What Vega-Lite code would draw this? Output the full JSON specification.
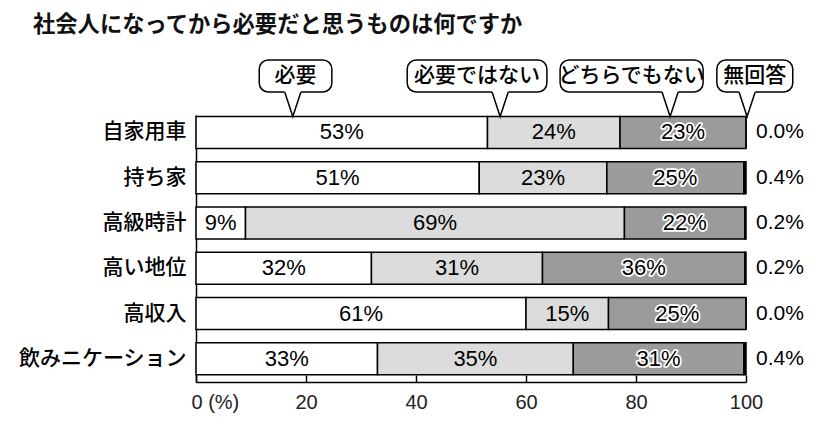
{
  "$schema": "https://vega.github.io/schema/vega-lite/v6.json",
  "width": 550,
  "height": 267,
  "autosize": {"type": "none"},
  "padding": {"left": 196, "top": 115, "right": 94, "bottom": 47},
  "background": "white",
  "title": {
    "text": "社会人になってから必要だと思うものは何ですか",
    "anchor": "start",
    "frame": "group",
    "dx": -163,
    "offset": 23,
    "font": "Noto Sans CJK JP",
    "fontSize": 22.3,
    "fontWeight": "bold",
    "color": "#111111"
  },
  "config": {"view": {"stroke": null}, "font": "Noto Sans CJK JP"},
  "datasets": {
    "answers": [
      {"item": "自家用車", "resp": "必要", "k": 1, "value": 53.0, "label": "53%"},
      {"item": "自家用車", "resp": "必要ではない", "k": 2, "value": 24.1, "label": "24%"},
      {"item": "自家用車", "resp": "どちらでもない", "k": 3, "value": 22.9, "label": "23%"},
      {"item": "自家用車", "resp": "無回答", "k": 4, "value": 0.0, "label": "0.0%"},
      {"item": "持ち家", "resp": "必要", "k": 1, "value": 51.5, "label": "51%"},
      {"item": "持ち家", "resp": "必要ではない", "k": 2, "value": 23.2, "label": "23%"},
      {"item": "持ち家", "resp": "どちらでもない", "k": 3, "value": 24.9, "label": "25%"},
      {"item": "持ち家", "resp": "無回答", "k": 4, "value": 0.4, "label": "0.4%"},
      {"item": "高級時計", "resp": "必要", "k": 1, "value": 9.0, "label": "9%"},
      {"item": "高級時計", "resp": "必要ではない", "k": 2, "value": 68.9, "label": "69%"},
      {"item": "高級時計", "resp": "どちらでもない", "k": 3, "value": 21.9, "label": "22%"},
      {"item": "高級時計", "resp": "無回答", "k": 4, "value": 0.2, "label": "0.2%"},
      {"item": "高い地位", "resp": "必要", "k": 1, "value": 31.9, "label": "32%"},
      {"item": "高い地位", "resp": "必要ではない", "k": 2, "value": 31.1, "label": "31%"},
      {"item": "高い地位", "resp": "どちらでもない", "k": 3, "value": 36.8, "label": "36%"},
      {"item": "高い地位", "resp": "無回答", "k": 4, "value": 0.2, "label": "0.2%"},
      {"item": "高収入", "resp": "必要", "k": 1, "value": 60.0, "label": "61%"},
      {"item": "高収入", "resp": "必要ではない", "k": 2, "value": 15.0, "label": "15%"},
      {"item": "高収入", "resp": "どちらでもない", "k": 3, "value": 25.0, "label": "25%"},
      {"item": "高収入", "resp": "無回答", "k": 4, "value": 0.0, "label": "0.0%"},
      {"item": "飲みニケーション", "resp": "必要", "k": 1, "value": 33.0, "label": "33%"},
      {"item": "飲みニケーション", "resp": "必要ではない", "k": 2, "value": 35.6, "label": "35%"},
      {"item": "飲みニケーション", "resp": "どちらでもない", "k": 3, "value": 31.0, "label": "31%"},
      {"item": "飲みニケーション", "resp": "無回答", "k": 4, "value": 0.4, "label": "0.4%"}
    ],
    "callouts": [
      {"name": "必要", "x0": 11.5, "x1": 24.7, "tip": 17.6, "mid": 18.1},
      {"name": "必要ではない", "x0": 38.4, "x1": 63.8, "tip": 55.3, "mid": 51.1},
      {"name": "どちらでもない", "x0": 66.2, "x1": 92.2, "tip": 86.2, "mid": 79.2},
      {"name": "無回答", "x0": 94.7, "x1": 108.5, "tip": 100.2, "mid": 101.6}
    ]
  },
  "layer": [
    {
      "data": {"name": "answers"},
      "encoding": {
        "y": {
          "field": "item",
          "type": "nominal",
          "sort": ["自家用車", "持ち家", "高級時計", "高い地位", "高収入", "飲みニケーション"],
          "scale": {"paddingInner": 0.293, "paddingOuter": 0.096, "align": 0.17, "round": false},
          "axis": {
            "title": null,
            "domain": true,
            "domainColor": "#000000",
            "domainWidth": 1.5,
            "ticks": false,
            "grid": false,
            "labelPadding": 10,
            "labelFont": "Noto Sans CJK JP",
            "labelFontSize": 21,
            "labelFontWeight": 500,
            "labelColor": "#000000"
          }
        }
      },
      "layer": [
        {
          "mark": {"type": "bar", "stroke": "#000000", "strokeWidth": 1.5},
          "encoding": {
            "x": {
              "field": "value",
              "type": "quantitative",
              "stack": "zero",
              "scale": {"domain": [0, 100], "nice": false},
              "axis": {
                "title": null,
                "values": [0, 20, 40, 60, 80, 100],
                "grid": false,
                "domain": true,
                "domainColor": "#000000",
                "domainWidth": 1.5,
                "ticks": true,
                "tickSize": -7,
                "tickColor": "#000000",
                "tickWidth": 1.5,
                "labelPadding": 17,
                "labelFlush": false,
                "labelFont": "Liberation Sans",
                "labelFontSize": 20,
                "labelColor": "#222222",
                "labelExpr": "datum.value == 0 ? '0 (%)' : datum.label",
                "labelAlign": {"condition": {"test": "datum.value == 0", "value": "left"}, "value": "center"},
                "labelOffset": {"condition": {"test": "datum.value == 0", "value": -5}, "value": 0}
              }
            },
            "color": {
              "field": "resp",
              "type": "nominal",
              "scale": {
                "domain": ["必要", "必要ではない", "どちらでもない", "無回答"],
                "range": ["#ffffff", "#dcdcdc", "#9b9b9b", "#000000"]
              },
              "legend": null
            },
            "order": {"field": "k", "type": "quantitative"}
          }
        },
        {
          "mark": {
            "type": "text",
            "font": "Liberation Sans",
            "fontSize": 22,
            "baseline": "middle",
            "align": "center",
            "fill": "#ffffff",
            "stroke": "#ffffff",
            "strokeJoin": "round"
          },
          "encoding": {
            "x": {"field": "value", "type": "quantitative", "stack": "zero", "bandPosition": 0.5, "scale": {"domain": [0, 100], "nice": false}},
            "detail": {"field": "resp"},
            "order": {"field": "k", "type": "quantitative"},
            "text": {"condition": {"test": "datum.k != 3", "value": ""}, "field": "label"},
            "strokeWidth": {"value": 3.5}
          }
        },
        {
          "mark": {
            "type": "text",
            "font": "Liberation Sans",
            "fontSize": 22,
            "baseline": "middle",
            "align": "center",
            "color": "#000000"
          },
          "encoding": {
            "x": {"field": "value", "type": "quantitative", "stack": "zero", "bandPosition": 0.5, "scale": {"domain": [0, 100], "nice": false}},
            "detail": {"field": "resp"},
            "order": {"field": "k", "type": "quantitative"},
            "text": {"condition": {"test": "datum.k == 4", "value": ""}, "field": "label"}
          }
        },
        {
          "transform": [{"filter": "datum.k == 4"}],
          "mark": {
            "type": "text",
            "font": "Liberation Sans",
            "fontSize": 21,
            "baseline": "middle",
            "align": "left",
            "dx": 10,
            "color": "#000000"
          },
          "encoding": {
            "x": {"datum": 100, "type": "quantitative", "scale": {"domain": [0, 100], "nice": false}},
            "text": {"field": "label"}
          }
        }
      ]
    },
    {
      "data": {"name": "callouts"},
      "layer": [
        {
          "mark": {"type": "rect", "fill": "#ffffff", "stroke": "#000000", "strokeWidth": 1.5, "cornerRadius": 9},
          "encoding": {
            "x": {"field": "x0", "type": "quantitative", "scale": {"domain": [0, 100], "nice": false}},
            "x2": {"field": "x1"},
            "y": {"datum": 1.206, "type": "quantitative", "scale": {"domain": [0, 1], "nice": false, "zero": true}, "axis": null},
            "y2": {"datum": 1.086}
          }
        },
        {
          "mark": {"type": "point", "shape": "M-0.363,-1.1L0,0L0.363,-1.1Z", "size": 2401, "filled": true, "fill": "#ffffff", "strokeWidth": 0, "opacity": 1},
          "encoding": {
            "x": {"field": "tip", "type": "quantitative", "scale": {"domain": [0, 100], "nice": false}},
            "y": {"datum": 0.994, "type": "quantitative", "scale": {"domain": [0, 1], "nice": false}, "axis": null}
          }
        },
        {
          "mark": {"type": "point", "shape": "M-0.33,-1L0,0L0.33,-1", "size": 2401, "filled": false, "fill": null, "stroke": "#000000", "strokeWidth": 1.5, "opacity": 1},
          "encoding": {
            "x": {"field": "tip", "type": "quantitative", "scale": {"domain": [0, 100], "nice": false}},
            "y": {"datum": 0.994, "type": "quantitative", "scale": {"domain": [0, 1], "nice": false}, "axis": null}
          }
        },
        {
          "mark": {"type": "text", "font": "Noto Sans CJK JP", "fontSize": 21, "fontWeight": 500, "baseline": "middle", "align": "center", "color": "#000000"},
          "encoding": {
            "x": {"field": "mid", "type": "quantitative", "scale": {"domain": [0, 100], "nice": false}},
            "y": {"datum": 1.146, "type": "quantitative", "scale": {"domain": [0, 1], "nice": false}, "axis": null},
            "text": {"field": "name"}
          }
        }
      ]
    }
  ],
  "resolve": {"scale": {"y": "independent"}}
}
